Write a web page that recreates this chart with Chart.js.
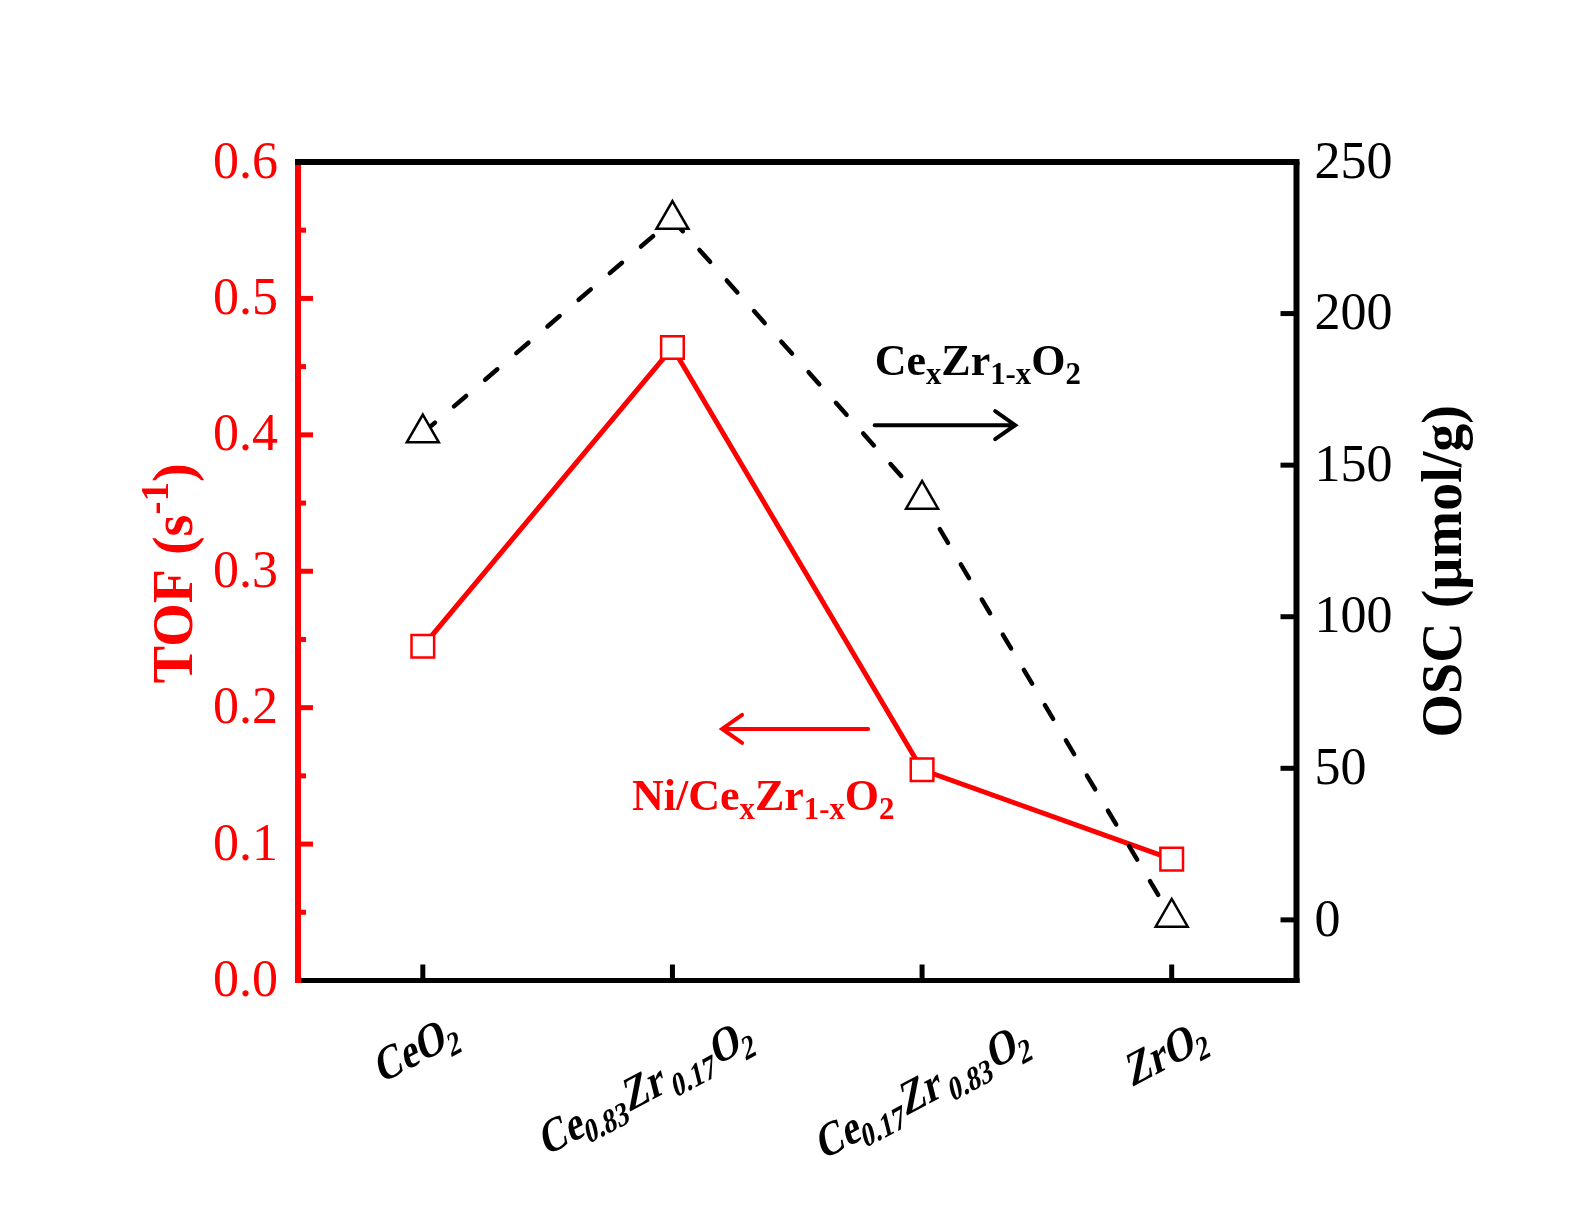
<!DOCTYPE html>
<html>
<head>
<meta charset="utf-8">
<script src="https://cdn.jsdelivr.net/npm/chart.js@4.4.1/dist/chart.umd.min.js"></script>
<style>
  html, body { margin: 0; padding: 0; background: #fff; }
  canvas { display: block; }
</style>
</head>
<body>
<canvas id="grafico" width="1584" height="1224"></canvas>
<script>
// dados
const categorias = ['CeO2', 'Ce0.83Zr0.17O2', 'Ce0.17Zr0.83O2', 'ZrO2']
const rotulosX = ['CeO_{2}', 'Ce_{0.83}Zr_{ 0.17}O_{2}', 'Ce_{0.17}Zr_{ 0.83}O_{2}', 'ZrO_{2}']
const valoresTOF = [0.245, 0.464, 0.1545, 0.089]
const valoresOSC = [160.6, 231, 138.7, 0.8]

const ticksTOF = [0, 0.1, 0.2, 0.3, 0.4, 0.5, 0.6]
const rotulosTOF = ['0.0', '0.1', '0.2', '0.3', '0.4', '0.5', '0.6']
const minorTOF = [0.05, 0.15, 0.25, 0.35, 0.45, 0.55]
const ticksOSC = [0, 50, 100, 150, 200, 250]
const rotulosOSC = ['0', '50', '100', '150', '200', '250']

const tituloTOF = 'TOF (s^{-1})'
const tituloOSC = 'OSC (\u00b5mol/g)'
const textoOSC = 'Ce_{x}Zr_{1-x}O_{2}'
const textoTOF = 'Ni/Ce_{x}Zr_{1-x}O_{2}'

// posição das anotações em unidades dos eixos (índice da categoria, valor)
const setaOSC = [1.81, 2.373, 163.2]
const setaTOF = [1.784, 1.199, 0.1844]
const posTextoOSC = [1.81, 179.7]
const posTextoTOF = [0.838, 0.125]

// deslocamento do centro de cada rótulo do eixo x (px, relativo à marca e à base do gráfico)
const deslocRotulos = [[-6, 67], [-26, 105], [1, 109], [-5, 71]]

const VERMELHO = '#ff0000'
const FONTE = "'Liberation Serif', 'Times New Roman', serif"

// texto com sub/sobrescrito
function parseTexto(s){
    const partes = []
    const re = /([_^])\{([^}]*)\}/g
    let ultimo = 0
    let m
    while((m = re.exec(s))){
        if(m.index > ultimo) partes.push({t: s.slice(ultimo, m.index), k: ''})
        partes.push({t: m[2], k: m[1]})
        ultimo = re.lastIndex
    }
    if(ultimo < s.length) partes.push({t: s.slice(ultimo), k: ''})
    return partes
}

function fonte(tam, peso){
    return peso + ' ' + tam + 'px ' + FONTE
}

function larguraTexto(ctx, partes, tam, peso){
    let w = 0
    for(const p of partes){
        ctx.font = fonte(p.k ? tam * 0.7 : tam, peso)
        w += ctx.measureText(p.t).width
    }
    return w
}

function desenharTexto(ctx, s, x, y, tam, peso, cor){
    const partes = parseTexto(s)
    ctx.fillStyle = cor
    ctx.textBaseline = 'alphabetic'
    ctx.textAlign = 'left'
    let cx = x
    for(const p of partes){
        let dy = 0
        let t = tam
        if(p.k === '_'){ t = tam * 0.7; dy = tam * 0.2 }
        if(p.k === '^'){ t = tam * 0.7; dy = -tam * 0.42 }
        ctx.font = fonte(t, peso)
        ctx.fillText(p.t, cx, y + dy)
        cx += ctx.measureText(p.t).width
    }
}

function seta(ctx, x1, x2, y, cor){
    const dir = x2 > x1 ? 1 : -1
    ctx.strokeStyle = cor
    ctx.lineWidth = 4
    ctx.lineCap = 'round'
    ctx.beginPath()
    ctx.moveTo(x1, y)
    ctx.lineTo(x2, y)
    ctx.moveTo(x2 - dir * 20, y - 14)
    ctx.lineTo(x2, y)
    ctx.lineTo(x2 - dir * 20, y + 14)
    ctx.stroke()
}

const eixosPlugin = {
    id: 'eixos',
    afterDraw(chart){
        const {ctx, chartArea: a, scales} = chart
        const sx = scales.x, sy = scales.y, sy1 = scales.y1
        ctx.save()
        ctx.lineCap = 'butt'

        // moldura
        ctx.strokeStyle = '#000'
        ctx.lineWidth = 6
        ctx.beginPath(); ctx.moveTo(a.left - 3, a.top); ctx.lineTo(a.right + 3, a.top); ctx.stroke()
        ctx.beginPath(); ctx.moveTo(a.right, a.top); ctx.lineTo(a.right, a.bottom + 2.5); ctx.stroke()
        ctx.lineWidth = 5
        ctx.beginPath(); ctx.moveTo(a.left, a.bottom); ctx.lineTo(a.right + 3, a.bottom); ctx.stroke()
        ctx.strokeStyle = VERMELHO
        ctx.lineWidth = 6
        ctx.beginPath(); ctx.moveTo(a.left, a.top + 3); ctx.lineTo(a.left, a.bottom + 2.5); ctx.stroke()

        // marcas dos eixos
        ctx.lineWidth = 5
        for(const v of ticksTOF){
            const py = sy.getPixelForValue(v)
            if(py < a.top + 4 || py > a.bottom - 4) continue
            ctx.beginPath(); ctx.moveTo(a.left, py); ctx.lineTo(a.left + 15, py); ctx.stroke()
        }
        for(const v of minorTOF){
            const py = sy.getPixelForValue(v)
            ctx.beginPath(); ctx.moveTo(a.left, py); ctx.lineTo(a.left + 8, py); ctx.stroke()
        }
        ctx.strokeStyle = '#000'
        for(const v of ticksOSC){
            const py = sy1.getPixelForValue(v)
            ctx.beginPath(); ctx.moveTo(a.right, py); ctx.lineTo(a.right - 16, py); ctx.stroke()
        }
        for(let i = 0; i < categorias.length; i++){
            const px = sx.getPixelForValue(i)
            ctx.beginPath(); ctx.moveTo(px, a.bottom); ctx.lineTo(px, a.bottom - 16); ctx.stroke()
        }

        // rótulos dos eixos
        ctx.font = fonte(52, 'normal')
        ctx.textBaseline = 'middle'
        ctx.fillStyle = VERMELHO
        ctx.textAlign = 'right'
        for(let i = 0; i < ticksTOF.length; i++){
            ctx.fillText(rotulosTOF[i], a.left - 20, sy.getPixelForValue(ticksTOF[i]) + 2)
        }
        ctx.fillStyle = '#000'
        ctx.textAlign = 'left'
        for(let i = 0; i < ticksOSC.length; i++){
            ctx.fillText(rotulosOSC[i], a.right + 18, sy1.getPixelForValue(ticksOSC[i]) + 2)
        }

        // rótulos das categorias (linha de base inclinada)
        const ang = 28 * Math.PI / 180
        const incl = 14 * Math.PI / 180
        const esc = 0.82
        const tam = 48
        for(let i = 0; i < rotulosX.length; i++){
            const partes = parseTexto(rotulosX[i])
            const w = larguraTexto(ctx, partes, tam, 'bold')
            const cx = sx.getPixelForValue(i) + deslocRotulos[i][0]
            const cy = a.bottom + deslocRotulos[i][1]
            ctx.save()
            ctx.translate(cx, cy)
            ctx.transform(esc * Math.cos(ang), -esc * Math.sin(ang), Math.sin(incl), Math.cos(incl), 0, 0)
            desenharTexto(ctx, rotulosX[i], -w / 2, tam * 0.33, tam, 'bold', '#000')
            ctx.restore()
        }

        // títulos
        const cyArea = (a.top + a.bottom) / 2
        let partes = parseTexto(tituloTOF)
        let w = larguraTexto(ctx, partes, 56, 'bold')
        ctx.save()
        ctx.translate(a.left - 106, cyArea + 2)
        ctx.rotate(-Math.PI / 2)
        desenharTexto(ctx, tituloTOF, -w / 2, 0, 56, 'bold', VERMELHO)
        ctx.restore()

        partes = parseTexto(tituloOSC)
        w = larguraTexto(ctx, partes, 56, 'bold')
        ctx.save()
        ctx.translate(a.right + 164, cyArea)
        ctx.rotate(-Math.PI / 2)
        desenharTexto(ctx, tituloOSC, -w / 2, 0, 56, 'bold', '#000')
        ctx.restore()

        // anotações
        desenharTexto(ctx, textoOSC, sx.getPixelForValue(posTextoOSC[0]), sy1.getPixelForValue(posTextoOSC[1]), 44, 'bold', '#000')
        desenharTexto(ctx, textoTOF, sx.getPixelForValue(posTextoTOF[0]), sy.getPixelForValue(posTextoTOF[1]), 44, 'bold', VERMELHO)
        seta(ctx, sx.getPixelForValue(setaOSC[0]), sx.getPixelForValue(setaOSC[1]), sy1.getPixelForValue(setaOSC[2]), '#000')
        seta(ctx, sx.getPixelForValue(setaTOF[0]), sx.getPixelForValue(setaTOF[1]), sy.getPixelForValue(setaTOF[2]), VERMELHO)

        ctx.restore()
    }
}

const escondido = {
    ticks: {display: false},
    grid: {display: false, drawTicks: false},
    border: {display: false},
    title: {display: false}
}

new Chart(document.getElementById('grafico'), {
    type: 'line',
    data: {
        labels: categorias,
        datasets: [
            {
                label: 'OSC',
                data: valoresOSC,
                yAxisID: 'y1',
                borderColor: '#000',
                borderWidth: 4.5,
                borderDash: [16, 25],
                borderCapStyle: 'round',
                pointStyle: 'triangle',
                pointRadius: 18.5,
                pointBorderWidth: 2.5,
                pointBorderColor: '#000',
                pointBackgroundColor: '#fff',
                tension: 0
            },
            {
                label: 'TOF',
                data: valoresTOF,
                yAxisID: 'y',
                borderColor: VERMELHO,
                borderWidth: 5,
                borderCapStyle: 'round',
                pointStyle: 'rect',
                pointRadius: 16,
                pointBorderWidth: 2.5,
                pointBorderColor: VERMELHO,
                pointBackgroundColor: '#fff',
                tension: 0
            }
        ]
    },
    options: {
        responsive: false,
        animation: false,
        devicePixelRatio: 1,
        layout: {padding: {left: 298, right: 287.5, top: 162, bottom: 243.5}},
        plugins: {legend: {display: false}, tooltip: {enabled: false}},
        scales: {
            x: Object.assign({type: 'category', offset: true}, escondido),
            y: Object.assign({type: 'linear', position: 'left', min: 0, max: 0.6}, escondido),
            y1: Object.assign({type: 'linear', position: 'right', min: -20, max: 250}, escondido)
        }
    },
    plugins: [eixosPlugin]
})
</script>
</body>
</html>
